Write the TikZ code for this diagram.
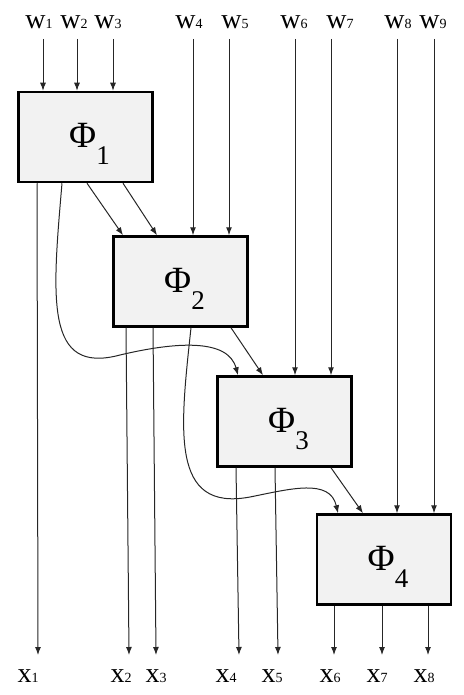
\documentclass[tikz,border=0pt]{standalone}
\usepackage{fontspec}
\usepackage{tikz}
\usetikzlibrary{arrows.meta}
\setmainfont{Liberation Serif}
\newcommand{\wl}[1]{{\fontsize{28}{28}\selectfont w\fontsize{14}{14}\selectfont #1}}
\newcommand{\xl}[1]{{\fontsize{28}{28}\selectfont x\fontsize{14}{14}\selectfont #1}}
\newcommand{\phil}[1]{\hspace*{8pt}{\fontsize{37}{37}\selectfont Φ}\raisebox{-17pt}{\fontsize{27}{27}\selectfont #1}}
\begin{document}
\begin{tikzpicture}[x=1pt, y=-1pt,
  blk/.style={draw=black, line width=2.5pt, fill=black!5, minimum width=134pt, minimum height=90pt, inner sep=0pt, text height=40pt, text depth=18pt},
  sig/.style={-{Latex[length=8pt,width=6pt]}, line width=1pt, draw=black!85},
  lbl/.style={inner sep=0pt}]
\useasboundingbox (0,0) rectangle (463,695);
\node[blk] (phi1) at (85.5,137) {\phil{1}};
\node[blk] (phi2) at (180.5,281.5) {\phil{2}};
\node[blk] (phi3) at (284.5,421.5) {\phil{3}};
\node[blk] (phi4) at (384,559.5) {\phil{4}};
\foreach \i/\xc in {1/39, 2/74, 3/108, 4/189, 5/235, 6/294, 7/340, 8/398, 9/433}
  \node[lbl] (w\i) at (\xc,22) {\wl{\i}};
\foreach \i/\xc in {1/28, 2/121, 3/156, 4/226, 5/272, 6/330, 7/377, 8/424}
  \node[lbl] (x\i) at (\xc,676) {\xl{\i}};
\foreach \i/\xa/\b in {1/43/phi1, 2/77/phi1, 3/113/phi1, 4/193/phi2, 5/229/phi2, 6/295/phi3, 7/331/phi3, 8/397/phi4, 9/434/phi4}
  \draw[sig] (\xa,39) coordinate (win\i) -- (win\i |- \b.north);
\foreach \i/\b/\s/\xe in {1/phi1/-48.5/38, 2/phi2/-54.5/129, 3/phi2/-27.5/156, 4/phi3/-48.5/239, 5/phi3/-9.5/278, 6/phi4/-50/334, 7/phi4/-2/382, 8/phi4/44/428}
  \draw[sig] ([xshift=\s pt]\b.south) -- (\xe,655) coordinate (xo\i);
\draw[sig] ([xshift=1.5pt]phi1.south) -- ([xshift=-57.5pt]phi2.north);
\draw[sig] ([xshift=37.5pt]phi1.south) -- ([xshift=-23.5pt]phi2.north);
\draw[sig] ([xshift=50.5pt]phi2.south) -- ([xshift=-21.5pt]phi3.north);
\draw[sig] ([xshift=46.5pt]phi3.south) -- ([xshift=-21pt]phi4.north);
\draw[sig] ([xshift=-23.5pt]phi1.south) .. controls (52,300) and (45,375) .. (120,355) .. controls (175,342) and (228,338) .. ([xshift=-46.5pt]phi3.north);
\draw[sig] ([xshift=10.5pt]phi2.south) .. controls (180,430) and (170,512) .. (250,497) .. controls (290,489) and (330,478) .. ([xshift=-46pt]phi4.north);
\end{tikzpicture}
\end{document}
